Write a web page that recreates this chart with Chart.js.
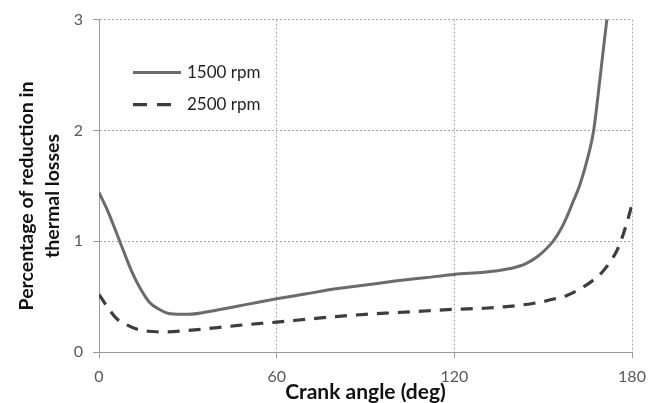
<!DOCTYPE html>
<html>
<head>
<meta charset="utf-8">
<script src="https://cdn.jsdelivr.net/npm/chart.js@4.4.0/dist/chart.umd.min.js"></script>
<style>
html,body{margin:0;padding:0;background:#fff}
</style>
</head>
<body>
<canvas id="c" width="661" height="403"></canvas>
<script>
// values
var seriesNames = ['1500 rpm', '2500 rpm']

var angles1500 = [0, 3, 7, 11, 14, 17, 20, 24, 30, 40, 50, 60, 70, 80, 90, 100, 110, 120, 130, 135, 140, 144, 148, 151, 153.4, 156, 158, 160, 162.4, 165.3, 167, 169.2, 171.5, 172]
var loss1500 = [1.44, 1.27, 1.0, 0.73, 0.57, 0.45, 0.39, 0.345, 0.34, 0.38, 0.43, 0.48, 0.525, 0.57, 0.605, 0.64, 0.67, 0.70, 0.72, 0.735, 0.76, 0.795, 0.86, 0.93, 1.0, 1.11, 1.22, 1.35, 1.51, 1.78, 1.99, 2.47, 3.0, 3.1]

var angles2500 = [0, 3, 6, 9, 13.5, 18, 21, 30, 40, 47, 60, 70, 80, 90, 100, 110, 120, 130, 137.6, 143, 149, 154, 158, 163.5, 167, 169.2, 172, 174.8, 176.5, 178.2, 180]
var loss2500 = [0.52, 0.40, 0.30, 0.25, 0.20, 0.185, 0.18, 0.195, 0.22, 0.24, 0.27, 0.295, 0.32, 0.34, 0.355, 0.37, 0.385, 0.395, 0.41, 0.425, 0.45, 0.48, 0.51, 0.585, 0.65, 0.70, 0.79, 0.91, 1.02, 1.16, 1.33]

var xTicks = [0, 60, 120, 180]
var yTicks = [0, 1, 2, 3]
var xTitle = 'Crank angle (deg)'
var yTitle = ['Percentage of reduction in', 'thermal losses']

function toPoints(xs, ys){
	return xs.map(function(x, i){ return {x: x, y: ys[i]} })
}

var fontName = 'Lato, "Open Sans", sans-serif'

// legend drawn inside the plot, upper left
var insideLegend = {
	id: 'insideLegend',
	afterDatasetsDraw: function(chart){
		var ctx = chart.ctx
		var a = chart.chartArea
		ctx.save()
		chart.data.datasets.forEach(function(ds, i){
			var y = a.top + 53 + i * 32
			var x0 = a.left + 34
			ctx.strokeStyle = ds.borderColor
			ctx.lineWidth = ds.borderWidth
			ctx.setLineDash(ds.borderDash ? [14, 10] : [])
			ctx.beginPath()
			ctx.moveTo(x0, y)
			ctx.lineTo(x0 + 48, y)
			ctx.stroke()
			ctx.setLineDash([])
			ctx.fillStyle = '#222'
			ctx.font = '17px ' + fontName
			ctx.textBaseline = 'middle'
			ctx.textAlign = 'left'
			ctx.fillText(ds.label, x0 + 54, y)
		})
		ctx.restore()
	}
}

// axis titles, placed the way the original has them
var axisTitles = {
	id: 'axisTitles',
	afterDraw: function(chart){
		var ctx = chart.ctx
		var a = chart.chartArea
		ctx.save()
		ctx.fillStyle = '#111'
		ctx.textAlign = 'center'
		ctx.font = 'bold 21px ' + fontName
		ctx.textBaseline = 'alphabetic'
		ctx.fillText(xTitle, (a.left + a.right) / 2, 399)
		ctx.font = 'bold 19.5px ' + fontName
		ctx.textBaseline = 'middle'
		ctx.translate(27, 196)
		ctx.rotate(-Math.PI / 2)
		yTitle.forEach(function(t, i){
			ctx.fillText(t, 0, i * 25.5)
		})
		ctx.restore()
	}
}

var ctx = document.getElementById('c')

var chart = new Chart(ctx, {
	type: 'line',
	data: {
		datasets: [{
			label: seriesNames[0],
			data: toPoints(angles1500, loss1500),
			borderColor: '#6b6b6b',
			borderWidth: 3,
			pointRadius: 0,
			cubicInterpolationMode: 'monotone',
			fill: false
		}, {
			label: seriesNames[1],
			data: toPoints(angles2500, loss2500),
			borderColor: '#3d3d3d',
			borderWidth: 3.2,
			borderDash: [12, 9],
			pointRadius: 0,
			cubicInterpolationMode: 'monotone',
			fill: false
		}]
	},
	options: {
		responsive: false,
		animation: false,
		layout: {padding: {top: 18, right: 29, left: 0, bottom: 0}},
		plugins: {
			legend: {display: false},
			tooltip: {enabled: false}
		},
		scales: {
			x: {
				type: 'linear',
				min: 0,
				max: 180,
				afterBuildTicks: function(s){ s.ticks = xTicks.map(function(v){ return {value: v} }) },
				afterFit: function(s){ s.height = 51 },
				ticks: {color: '#595959', font: {family: fontName, size: 16}, padding: 9, maxRotation: 0},
				grid: {color: '#a8a8a8', lineWidth: 1, tickLength: 6, tickColor: '#9a9a9a'},
				border: {color: '#9a9a9a', width: 1, dash: [2, 2]}
			},
			y: {
				type: 'linear',
				min: 0,
				max: 3,
				afterBuildTicks: function(s){ s.ticks = yTicks.map(function(v){ return {value: v} }) },
				afterFit: function(s){ s.width = 99 },
				ticks: {color: '#595959', font: {family: fontName, size: 16}, padding: 10},
				grid: {color: '#a8a8a8', lineWidth: 1, tickLength: 6, tickColor: '#9a9a9a'},
				border: {color: '#9a9a9a', width: 1, dash: [2, 2]}
			}
		}
	},
	plugins: [insideLegend, axisTitles]
});
</script>
</body>
</html>
